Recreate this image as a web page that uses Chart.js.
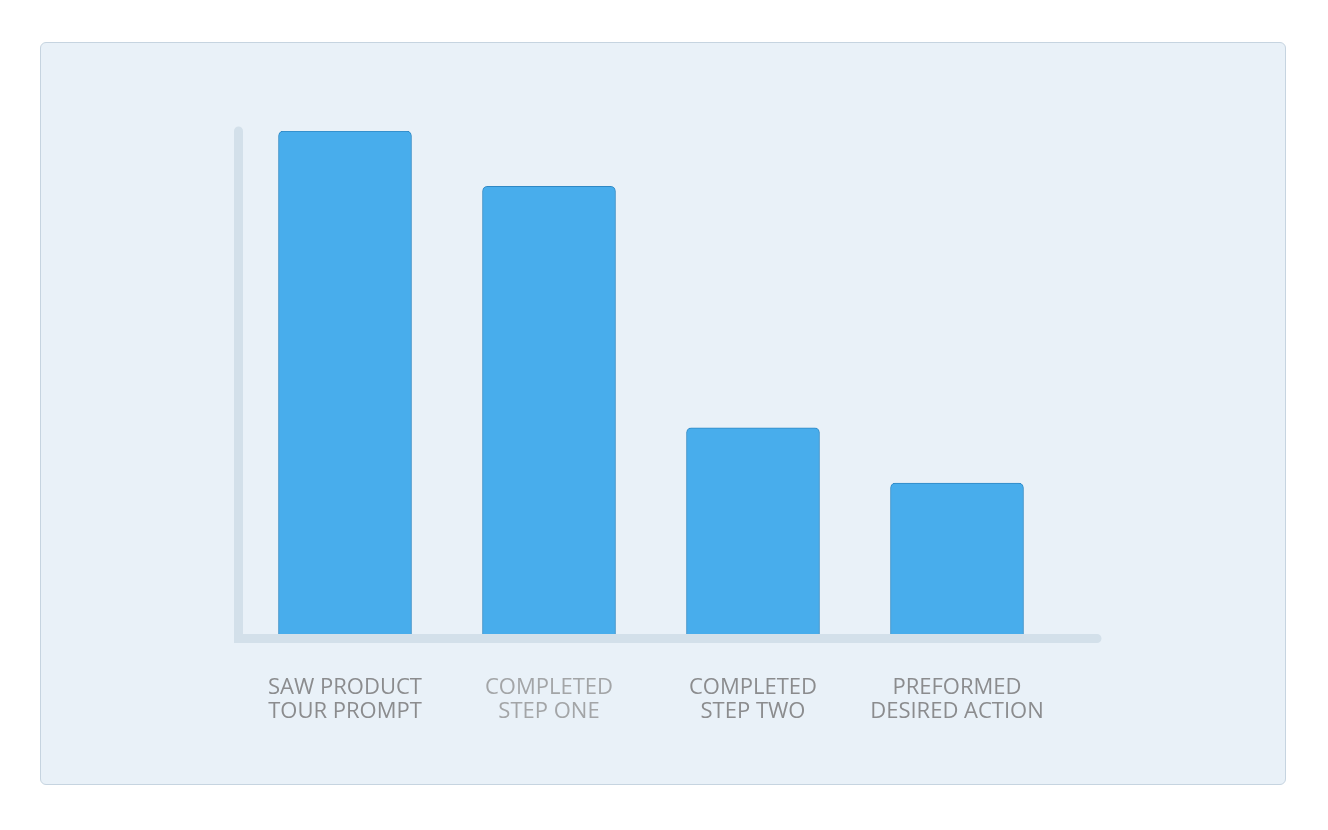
<!DOCTYPE html>
<html>
<head>
<meta charset="utf-8">
<script src="https://cdn.jsdelivr.net/npm/chart.js@4"></script>
<style>
  html, body { margin: 0; padding: 0; background: #ffffff; }
  body { width: 1328px; height: 830px; position: relative; overflow: hidden; }
  .panel {
    position: absolute; left: 40px; top: 42px; width: 1244px; height: 741px;
    background: #e9f1f8; border: 1px solid #c6d4e0; border-radius: 6px;
  }
  #funnelChart { position: absolute; left: 0; top: 0; }
</style>
</head>
<body>
<div class="panel"></div>
<canvas id="funnelChart" width="1328" height="830"></canvas>
<script>
const steps = [
  ['SAW PRODUCT', 'TOUR PROMPT'],
  ['COMPLETED', 'STEP ONE'],
  ['COMPLETED', 'STEP TWO'],
  ['PREFORMED', 'DESIRED ACTION']
];
const users = [100, 89, 41, 30];
const labelColors = ['#8b8c8e', '#a3a5a7', '#8b8c8e', '#8b8c8e'];

// rounded axis lines drawn under the bars
const axisLines = {
  id: 'axisLines',
  beforeDatasetsDraw(chart) {
    const { ctx, chartArea } = chart;
    ctx.save();
    ctx.strokeStyle = '#d3e0ea';
    ctx.lineWidth = 9;
    ctx.lineCap = 'round';
    ctx.beginPath();
    ctx.moveTo(chartArea.left - 4.5, chartArea.top);
    ctx.lineTo(chartArea.left - 4.5, chartArea.bottom + 4.5);
    ctx.lineTo(chartArea.right + 38, chartArea.bottom + 4.5);
    ctx.stroke();
    ctx.restore();
  }
};

document.addEventListener('DOMContentLoaded', () => {
  const ctx = document.getElementById('funnelChart').getContext('2d');

  new Chart(ctx, {
    type: 'bar',
    data: {
      labels: steps,
      datasets: [{
        data: users,
        backgroundColor: '#48adec',
        borderColor: '#2f88c4',
        borderWidth: 1,
        borderSkipped: 'bottom',
        borderRadius: { topLeft: 5, topRight: 5, bottomLeft: 0, bottomRight: 0 },
        barThickness: 133
      }]
    },
    plugins: [axisLines],
    options: {
      responsive: false,
      animation: false,
      layout: {
        padding: { left: 243, right: 269, top: 131, bottom: 64 }
      },
      scales: {
        y: {
          display: false,
          min: 0,
          max: 100
        },
        x: {
          grid: { display: false, drawTicks: false },
          border: { display: false },
          ticks: {
            padding: 42,
            color: labelColors,
            font: { family: '"Open Sans", sans-serif', size: 22, lineHeight: 1.09 }
          }
        }
      },
      plugins: {
        legend: { display: false },
        tooltip: { enabled: false }
      }
    }
  });
});
</script>
</body>
</html>
